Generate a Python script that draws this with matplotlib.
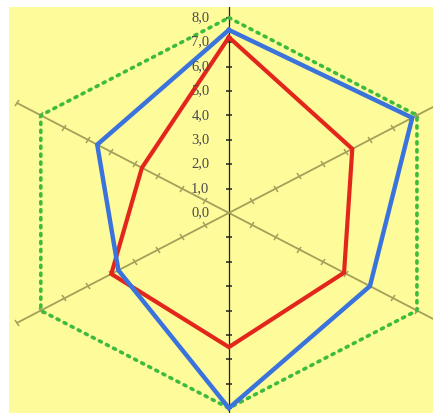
import numpy as np
import matplotlib
matplotlib.use("Agg")
import matplotlib.pyplot as plt
from matplotlib.markers import MarkerStyle
from matplotlib.transforms import Affine2D

# Data
angles_deg = [90, 30, -30, -90, -150, 150]
blue_values = [7.5, 7.8, 6.0, 8.0, 4.7, 5.6]
red_values = [7.2, 5.25, 4.9, 5.5, 5.0, 3.7]
max_value = 8
axis_extent = 9
tick_labels = ["0,0", "1,0", "2,0", "3,0", "4,0", "5,0", "6,0", "7,0", "8,0"]

bg = "#FEFB9B"
fig = plt.figure(figsize=(4.33, 4.13), dpi=100)
fig.patch.set_facecolor("white")
ax = fig.add_axes([9 / 433, 0, 1 - 9 / 433, 1 - 7 / 413])
ax.set_facecolor(bg)
ax.set_xlim(-8.1, 7.52)
ax.set_ylim(-8.2, 8.44)
for s in ax.spines.values():
    s.set_visible(False)
ax.set_xticks([])
ax.set_yticks([])

th = np.deg2rad(angles_deg)


def xy(vals):
    v = np.asarray(vals, dtype=float)
    x = v * np.cos(th)
    y = v * np.sin(th)
    return np.append(x, x[0]), np.append(y, y[0])


# axes lines with ticks
fig.canvas.draw()
for a in th:
    vertical = abs(np.cos(a)) < 1e-6
    col = "#222222" if vertical else "#A4A05A"
    lw = 0.9 if vertical else 1.3
    ax.plot([0, axis_extent * np.cos(a)], [0, axis_extent * np.sin(a)],
            color=col, lw=lw, zorder=2, clip_on=True)
    p0 = ax.transData.transform((0, 0))
    p1 = ax.transData.transform((np.cos(a), np.sin(a)))
    ang = np.degrees(np.arctan2(p1[1] - p0[1], p1[0] - p0[0]))
    m = MarkerStyle("|", transform=Affine2D().rotate_deg(ang))
    r = np.arange(1, axis_extent + 1)
    ax.plot(r * np.cos(a), r * np.sin(a), linestyle="none", marker=m,
            markersize=5, markeredgewidth=1.1, color=col, zorder=2)

# green dotted hexagon at max
gx, gy = xy([max_value] * 6)
ax.plot(gx, gy, color="#3DBB3D", lw=2.6, linestyle=(0, (0.6, 1.6)),
        dash_capstyle="round", zorder=3)

rx, ry = xy(red_values)
ax.plot(rx, ry, color="#E3261B", lw=3.0, zorder=4, solid_joinstyle="miter")
bx, by = xy(blue_values)
ax.plot(bx, by, color="#3A73DB", lw=3.2, zorder=5, solid_joinstyle="miter")

for i, lab in enumerate(tick_labels):
    ax.annotate(lab, (0, i), xytext=(-14, 0), textcoords="offset points",
                ha="right", va="center", fontsize=10.5,
                family="Liberation Serif", color="#4A4A4A", zorder=6)

fig.savefig("out.png", dpi=100, facecolor=fig.get_facecolor())
